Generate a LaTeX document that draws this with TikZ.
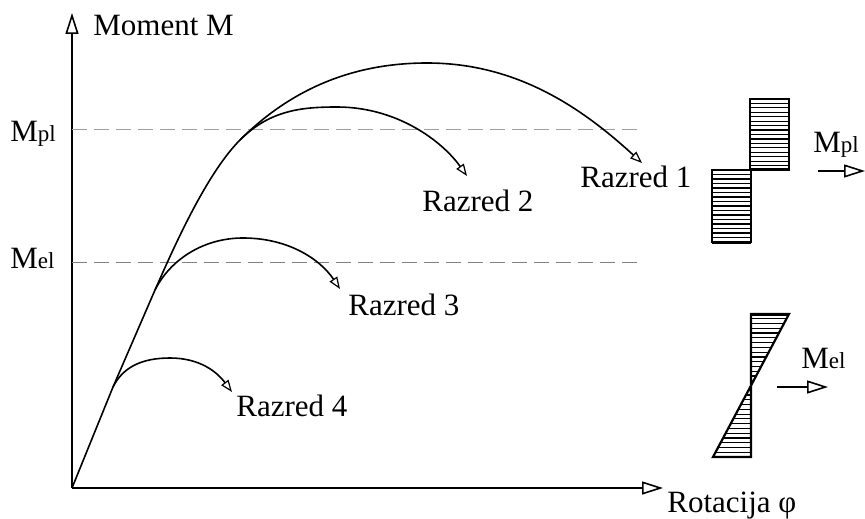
\documentclass[tikz,border=0pt]{standalone}
\usepackage{fontspec}
\setmainfont{Liberation Serif}
\usetikzlibrary{arrows.meta}
\newcommand\sbs[1]{{\fontsize{11.5}{12}\selectfont #1}}
\begin{document}
\begin{tikzpicture}[x=0.5pt,y=-0.5pt,
  lbl/.style={font=\fontsize{15.5}{18}\selectfont, inner sep=0pt, anchor=base west},
  axis/.style={line width=1pt, -{Triangle[open,length=10.5pt,width=6.5pt,line width=0.8pt]}},
  crv/.style={line width=0.8pt, -{Triangle[open,length=6pt,width=4.5pt,line width=0.6pt]}},
  pline/.style={line width=0.8pt},
  dsh/.style={line width=0.5pt, dash pattern=on 7.5pt off 3.5pt},
  outl/.style={line width=1.1pt, line join=miter},
  hatch/.style={line width=0.6pt}
]
\useasboundingbox (0,0) rectangle (865,518);
% axes
\coordinate (O) at (72,488);
\coordinate (Ytip) at (72,13);
\coordinate (Xtip) at (663,488);
\draw[axis] (O) -- (Ytip);
\draw[axis] (O) -- (Xtip);
\node[lbl] (ylab) at (93,36) {Moment M};
\node[lbl] (xlab) at (667,512) {Rotacija φ};
% dashed levels
\coordinate (Mpl0) at (72,130); \coordinate (Mpl1) at (642,130);
\coordinate (Mel0) at (72,262); \coordinate (Mel1) at (642,262);
\draw[dsh, gray!75] (Mpl0) -- (Mpl1);
\draw[dsh, gray] (Mel0) -- (Mel1);
\node[lbl] (mpl) at (10,142) {M\sbs{pl}};
\node[lbl] (mel) at (10,268) {M\sbs{el}};
% elastic branch
\coordinate (B4) at (113,387);
\coordinate (B3) at (155,290);
\coordinate (B2) at (240,140);
\draw[pline] (O) -- (B4) -- (B3);
% Razred 1
\coordinate (P1) at (427,63); \coordinate (E1) at (642,163);
\draw[crv] (B3) .. controls (171,254) and (205,175) .. (B2)
  .. controls (300,80) and (367,63) .. (P1)
  .. controls (517,63) and (582,108) .. (E1);
% Razred 2
\coordinate (P2) at (337,107); \coordinate (E2) at (467,176);
\draw[crv] (B2) .. controls (270,110) and (302,107) .. (P2)
  .. controls (397,107) and (442,141) .. (E2);
% Razred 3
\coordinate (P3) at (243,238); \coordinate (E3) at (340,289);
\draw[crv] (B3) .. controls (170,260) and (203,238) .. (P3)
  .. controls (288,238) and (320,259) .. (E3);
% Razred 4
\coordinate (P4) at (170,358); \coordinate (E4) at (232,392);
\draw[crv] (B4) .. controls (123,367) and (142,358) .. (P4)
  .. controls (200,358) and (217,372) .. (E4);
\node[lbl] (r1) at (580,187) {Razred 1};
\node[lbl] (r2) at (422,211) {Razred 2};
\node[lbl] (r3) at (348,315) {Razred 3};
\node[lbl] (r4) at (236,416) {Razred 4};
% plastic stress block
\foreach \i in {0,...,16} \draw[hatch] (750,{99+\i*71/16}) -- (789,{99+\i*71/16});
\foreach \i in {0,...,16} \draw[hatch] (712,{170+\i*72/16}) -- (751,{170+\i*72/16});
\draw[outl] (750,99) rectangle (789,170);
\draw[outl] (712,170) rectangle (751,242);
\draw[line width=1.5pt] (712,242) -- (751,242);
\draw[line width=1.5pt] (750,170) -- (789,170);
\node[lbl] (mpl2) at (813,153) {M\sbs{pl}};
\coordinate (a1s) at (818,171); \coordinate (a1e) at (865,171);
\draw[axis] (a1s) -- (a1e);
% elastic stress block
\foreach \i in {0,...,30} {
  \pgfmathsetmacro\yy{314+\i*143/30}
  \pgfmathsetmacro\xx{789-(\yy-314)*76/143}
  \draw[hatch] (751,\yy) -- (\xx,\yy);
}
\draw[outl] (751,314) -- (789,314) -- (713,457) -- (751,457) -- cycle;
\draw[line width=1.5pt] (751,314) -- (789,314);
\node[lbl] (mel2) at (801,368) {M\sbs{el}};
\coordinate (a2s) at (777,387); \coordinate (a2e) at (828,387);
\draw[axis] (a2s) -- (a2e);
\end{tikzpicture}
\end{document}
